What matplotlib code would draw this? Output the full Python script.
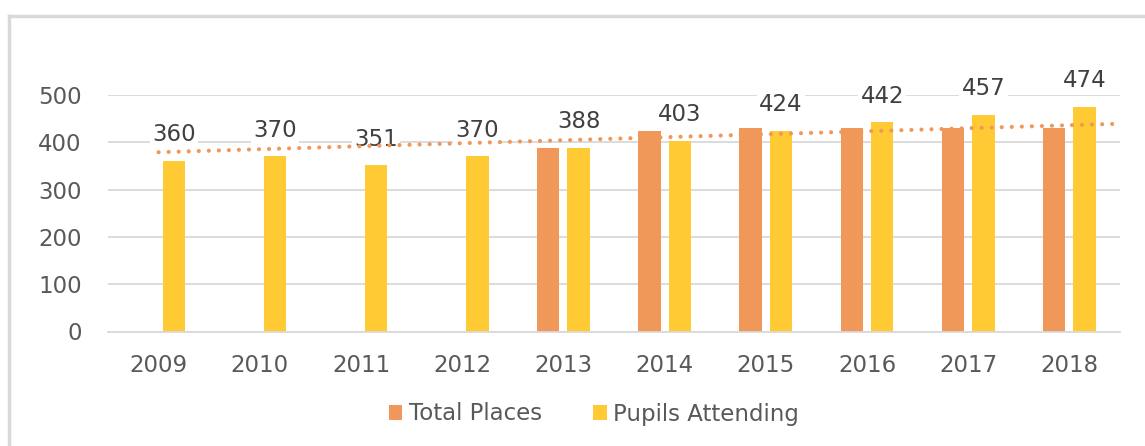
import numpy as np
import matplotlib
matplotlib.use("Agg")
import matplotlib.pyplot as plt
from matplotlib.lines import Line2D

# data
years = ["2009", "2010", "2011", "2012", "2013", "2014", "2015", "2016", "2017", "2018"]
total_places = [0, 0, 0, 0, 388, 424, 430, 430, 431, 430]
pupils = [360, 370, 351, 370, 388, 403, 424, 442, 457, 474]
trend_pos = [0, 9.45]
trend_vals = [379, 439]

orange = "#F0975A"
yellow = "#FFCA33"
grid_c = "#D9D9D9"

plt.rcParams["font.family"] = ["DejaVu Sans"]

fig = plt.figure(figsize=(11.45, 4.46), dpi=100)
ax = fig.add_axes([108 / 1145, 1 - 331.5 / 446, (1120 - 108) / 1145, (331.5 - 95) / 446])

x = np.arange(len(years))
w = 0.22
off = 0.15

ax.bar(x - off, total_places, w, color=orange, label="Total Places", zorder=2)
ax.bar(x + off, pupils, w, color=yellow, label="Pupils Attending", zorder=2)

# dotted trend line, drawn over the labels
ax.plot(trend_pos, trend_vals, color=orange, lw=3, linestyle=(0, (0.01, 2.4)),
        dash_capstyle="round", zorder=5)

# data labels on the attending bars
for xi, v in zip(x, pupils):
    ax.annotate(str(v), (xi + off, v), xytext=(0, 19), textcoords="offset points",
                ha="center", va="center", fontsize=16.5, color="#404040", zorder=4,
                bbox=dict(boxstyle="square,pad=0.1", fc="white", ec="none"),
                annotation_clip=False)

ax.set_xlim(-0.5, len(years) - 0.5)
ax.set_ylim(0, 500)
ax.set_yticks([0, 100, 200, 300, 400, 500])
ax.set_xticks(x)
ax.set_xticklabels(years)
ax.yaxis.grid(True, color=grid_c, lw=1.3, zorder=0)
ax.set_axisbelow(True)
for s in ["top", "right", "left"]:
    ax.spines[s].set_visible(False)
ax.spines["bottom"].set_color(grid_c)
ax.spines["bottom"].set_linewidth(1.3)
ax.tick_params(axis="both", length=0, labelsize=16.5, colors="#595959")
ax.tick_params(axis="y", pad=19)
ax.tick_params(axis="x", pad=16)

fig.legend(loc="center", bbox_to_anchor=(594 / 1145, 1 - 414 / 446), ncol=2,
           frameon=False, fontsize=16.5, labelcolor="#595959", handlelength=0.6,
           handleheight=0.6, handletextpad=0.3, columnspacing=2.2)

# chart border (gray frame running off the image)
fig.add_artist(Line2D([9 / 1145, 9 / 1145], [0, 1 - 16 / 446], color=grid_c, lw=2.5))
fig.add_artist(Line2D([9 / 1145, 1], [1 - 16 / 446, 1 - 16 / 446], color=grid_c, lw=2.5))

fig.savefig("out.png", dpi=100)
